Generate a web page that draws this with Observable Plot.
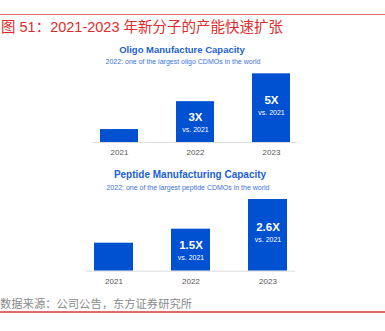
<!DOCTYPE html>
<html><head><meta charset="utf-8">
<script src="https://cdn.jsdelivr.net/npm/d3@7"></script>
<script src="https://cdn.jsdelivr.net/npm/@observablehq/plot@0.6"></script>
<style>
body{margin:0;background:#fff;}
#page{position:relative;width:385px;height:331px;overflow:hidden;font-family:"Liberation Sans",Arial,"Noto Sans CJK SC",sans-serif;}
.abs{position:absolute;white-space:nowrap;line-height:1;}
.c{transform:translate(-50%,-50%);}
.l{transform:translate(0,-50%);}
.rule{position:absolute;left:0;width:385px;}
.chart{position:absolute;left:0;}
</style></head>
<body><div id="page">
<div class="rule" style="top:14px;height:1px;background:#e36a6a;"></div>
<div id="mainTitle" class="abs l" style="left:1px;top:27px;font-size:14.5px;color:#e02b2b;font-family:'Liberation Sans','Noto Sans CJK SC',sans-serif;"></div>
<div id="t1" class="abs c" style="left:182px;top:49.5px;font-size:9.5px;font-weight:bold;color:#1d5fd6;"></div>
<div id="s1" class="abs c" style="left:183px;top:61px;font-size:7px;color:#3d72dc;"></div>
<div id="c1" class="chart" style="top:66px;"></div>
<div id="t2" class="abs c" style="left:190px;top:175px;font-size:10px;font-weight:bold;color:#1d5fd6;"></div>
<div id="s2" class="abs c" style="left:188px;top:186.5px;font-size:7px;color:#3d72dc;"></div>
<div id="c2" class="chart" style="top:192px;"></div>
<div id="footer" class="abs l" style="left:0px;top:303.5px;font-size:11.3px;color:#8a8a8a;font-family:'Noto Sans CJK SC',sans-serif;"></div>
<div class="rule" style="top:311px;height:1.5px;background:#e36a6a;"></div>
</div>
<script>
const mainTitle = "图 51：2021-2023 年新分子的产能快速扩张";
const footerText = "数据来源：公司公告，东方证券研究所";
const years = ["2021", "2022", "2023"];
const oligoTitle = "Oligo Manufacture Capacity";
const oligoSubtitle = "2022: one of the largest oligo CDMOs in the world";
const oligoValues = [1, 3.15, 5.3];
const oligoLabels = ["", "3X", "5X"];
const peptideTitle = "Peptide Manufacturing Capacity";
const peptideSubtitle = "2022: one of the largest peptide CDMOs in the world";
const peptideValues = [1, 1.5, 2.56];
const peptideLabels = ["", "1.5X", "2.6X"];
const vsLabel = "vs. 2021";

document.getElementById("mainTitle").textContent = mainTitle;
document.getElementById("footer").textContent = footerText;
document.getElementById("t1").textContent = oligoTitle;
document.getElementById("s1").textContent = oligoSubtitle;
document.getElementById("t2").textContent = peptideTitle;
document.getElementById("s2").textContent = peptideSubtitle;

function makeChart(values, labels, cfg) {
  const data = years.map((y, i) => ({year: y, value: values[i], label: labels[i]}));
  const labeled = data.filter(d => d.label);
  return Plot.plot({
    width: 385,
    height: cfg.height,
    marginLeft: cfg.ml,
    marginRight: cfg.mr,
    marginTop: cfg.mt,
    marginBottom: cfg.mb,
    x: {domain: years, paddingInner: 0.5, paddingOuter: cfg.po, label: null, tickSize: 0, tickPadding: cfg.tp},
    y: {domain: [0, cfg.ymax], axis: null},
    style: {fontFamily: "'Liberation Sans', Arial, sans-serif", fontSize: "8px", color: "#555", background: "transparent", overflow: "visible"},
    marks: [
      Plot.barY(data, {x: "year", y: "value", fill: "#0050d2"}),
      Plot.ruleY([0], {stroke: "#dcdcdc", strokeWidth: 1}),
      Plot.text(labeled, {x: "year", y: d => d.value * 0.61, text: "label", fill: "white", fontWeight: "bold", fontSize: 11.5}),
      Plot.text(labeled, {x: "year", y: d => d.value * 0.61, text: () => vsLabel, fill: "white", fontSize: 7, dy: 12})
    ]
  });
}

document.getElementById("c1").appendChild(makeChart(oligoValues, oligoLabels, {
  height: 95, ml: 93, mr: 88, mt: 7.3, mb: 19, po: 0.09, tp: 6.5, ymax: 5.3
}));
document.getElementById("c2").appendChild(makeChart(peptideValues, peptideLabels, {
  height: 100, ml: 86, mr: 90, mt: 7, mb: 21.3, po: 0.09, tp: 7, ymax: 2.56
}));
</script>
</body></html>
